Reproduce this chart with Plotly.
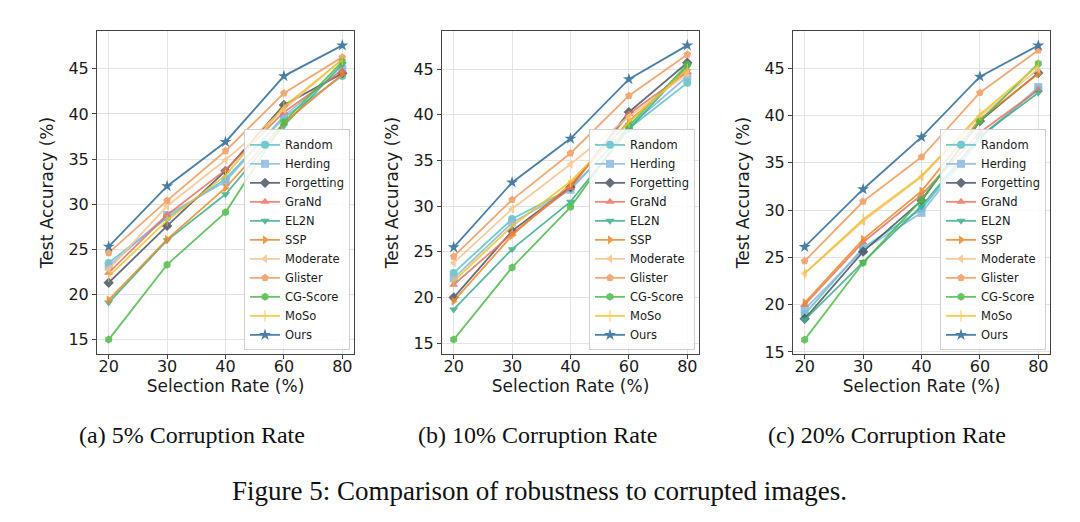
import plotly.graph_objects as go

RATES = ["20", "30", "40", "60", "80"]

METHODS = ["Random", "Herding", "Forgetting", "GraNd", "EL2N", "SSP",
           "Moderate", "Glister", "CG-Score", "MoSo", "Ours"]

# (a) 5% corruption
ACC_5 = {
    "Random":     [23.5, 28.5, 32.8, 39.6, 44.2],
    "Herding":    [23.1, 28.8, 32.5, 39.8, 45.0],
    "Forgetting": [21.3, 27.6, 33.7, 41.0, 44.5],
    "GraNd":      [22.4, 28.8, 33.8, 40.2, 44.8],
    "EL2N":       [19.1, 26.0, 31.1, 38.7, 45.5],
    "SSP":        [19.4, 26.1, 31.8, 39.0, 44.4],
    "Moderate":   [22.8, 29.8, 34.9, 40.5, 46.1],
    "Glister":    [24.6, 30.4, 35.9, 42.3, 46.3],
    "CG-Score":   [15.0, 23.3, 29.1, 39.1, 45.8],
    "MoSo":       [22.0, 28.2, 33.2, 40.8, 46.0],
    "Ours":       [25.3, 32.0, 36.9, 44.2, 47.6],
}

# (b) 10% corruption
ACC_10 = {
    "Random":     [22.7, 28.6, 31.9, 38.5, 43.5],
    "Herding":    [22.1, 28.2, 31.8, 38.7, 44.2],
    "Forgetting": [20.0, 27.3, 32.1, 40.3, 45.7],
    "GraNd":      [21.4, 27.0, 32.0, 40.1, 44.7],
    "EL2N":       [18.7, 25.3, 30.5, 38.4, 45.3],
    "SSP":        [19.6, 26.8, 32.4, 39.3, 44.9],
    "Moderate":   [23.8, 29.7, 34.6, 39.8, 44.5],
    "Glister":    [24.5, 30.7, 35.8, 42.1, 46.6],
    "CG-Score":   [15.4, 23.3, 29.9, 38.8, 45.5],
    "MoSo":       [21.8, 27.8, 32.7, 39.2, 45.0],
    "Ours":       [25.5, 32.6, 37.4, 43.9, 47.6],
}

# (c) 20% corruption
ACC_20 = {
    "Random":     [19.0, 26.0, 30.1, 37.7, 42.8],
    "Herding":    [19.5, 25.8, 29.7, 37.5, 43.0],
    "Forgetting": [18.5, 25.6, 31.0, 39.4, 44.5],
    "GraNd":      [20.0, 26.6, 31.6, 38.2, 42.7],
    "EL2N":       [18.4, 24.5, 30.4, 37.8, 42.4],
    "SSP":        [20.2, 26.9, 32.0, 39.6, 44.4],
    "Moderate":   [23.3, 28.8, 33.5, 39.9, 44.9],
    "Glister":    [24.6, 30.9, 35.6, 42.4, 46.9],
    "CG-Score":   [16.3, 24.4, 31.1, 39.4, 45.5],
    "MoSo":       [23.3, 29.0, 33.6, 40.1, 45.3],
    "Ours":       [26.1, 32.2, 37.7, 44.1, 47.4],
}

PANELS = [ACC_5, ACC_10, ACC_20]
SUBCAPTIONS = ["(a) 5% Corruption Rate", "(b) 10% Corruption Rate", "(c) 20% Corruption Rate"]
CAPTION = "Figure 5: Comparison of robustness to corrupted images."

STYLE = {
    "Random":     {"color": "#5cc2c6", "symbol": "circle"},
    "Herding":    {"color": "#8cb9de", "symbol": "square"},
    "Forgetting": {"color": "#4b5565", "symbol": "diamond"},
    "GraNd":      {"color": "#ea7560", "symbol": "triangle-up"},
    "EL2N":       {"color": "#3fae8c", "symbol": "triangle-down"},
    "SSP":        {"color": "#f0892a", "symbol": "triangle-right"},
    "Moderate":   {"color": "#f8c38e", "symbol": "triangle-left"},
    "Glister":    {"color": "#f39a5e", "symbol": "pentagon"},
    "CG-Score":   {"color": "#4dbb48", "symbol": "hexagon"},
    "MoSo":       {"color": "#f3c22c", "symbol": "line-ns"},
    "Ours":       {"color": "#2b6a9a", "symbol": "star"},
}

# pixel geometry of each panel (left, right) in a 1080x522 canvas
W, H = 1080, 522
PANEL_X = [(89, 346), (434, 691), (785, 1042)]
PANEL_TOP, PANEL_BOTTOM = 23, 351
Y_RANGES = [(13.37, 49.23), (13.79, 49.21), (14.75, 48.96)]
CAPTION_X = [184, 529, 879]

fig = go.Figure()

for i, data in enumerate(PANELS):
    sfx = "" if i == 0 else str(i + 1)
    for m in METHODS:
        st = STYLE[m]
        fig.add_trace(go.Scatter(
            x=RATES, y=data[m], name=m, mode="lines+markers",
            xaxis="x" + sfx, yaxis="y" + sfx, legend="legend" + sfx,
            opacity=0.85,
            line=dict(color=st["color"], width=1.8),
            marker=dict(symbol=st["symbol"], size=8 if m != "Ours" else 9,
                        color=st["color"],
                        line=dict(color=st["color"], width=1 if m == "MoSo" else 0)),
        ))

axis_common = dict(
    showline=True, mirror=True, linecolor="#444", linewidth=1,
    showgrid=True, gridcolor="#e3e3e3", gridwidth=1,
    ticks="outside", ticklen=4, tickcolor="#444", zeroline=False,
    tickfont=dict(family="DejaVu Sans", size=16, color="#1a1a1a"),
)

layout = dict(
    width=W, height=H, margin=dict(l=0, r=0, t=0, b=0),
    paper_bgcolor="white", plot_bgcolor="white", showlegend=True,
    font=dict(family="DejaVu Sans", color="#1a1a1a"),
)

annotations = []
for i, (x0, x1) in enumerate(PANEL_X):
    sfx = "" if i == 0 else str(i + 1)
    dom_x = [x0 / W, x1 / W]
    dom_y = [1 - PANEL_BOTTOM / H, 1 - PANEL_TOP / H]
    layout["xaxis" + sfx] = dict(
        axis_common, domain=dom_x, anchor="y" + sfx, type="category",
        range=[-0.2, 4.2], ticklabelstandoff=-6,
        title=dict(text="Selection Rate (%)", font=dict(family="DejaVu Sans", size=17), standoff=0),
    )
    layout["yaxis" + sfx] = dict(
        axis_common, domain=dom_y, anchor="x" + sfx,
        range=list(Y_RANGES[i]), tickvals=[15, 20, 25, 30, 35, 40, 45],
        title=dict(text="Test Accuracy (%)", font=dict(family="DejaVu Sans", size=17), standoff=10),
    )
    layout["legend" + sfx] = dict(
        x=(x1 - 4) / W, y=1 - (PANEL_BOTTOM - 4) / H, xanchor="right", yanchor="bottom",
        bgcolor="rgba(255,255,255,0.85)", bordercolor="#d0d0d0", borderwidth=1,
        font=dict(family="DejaVu Sans", size=11.5, color="#1a1a1a"),
        tracegroupgap=0, itemwidth=30,
    )
    annotations.append(dict(
        text=SUBCAPTIONS[i], xref="paper", yref="paper",
        x=CAPTION_X[i] / W, y=1 - 433 / H, xanchor="center", yanchor="middle",
        showarrow=False, font=dict(family="Liberation Serif", size=24, color="#111"),
    ))

annotations.append(dict(
    text=CAPTION, xref="paper", yref="paper", x=531 / W, y=1 - 490 / H,
    xanchor="center", yanchor="middle", showarrow=False,
    font=dict(family="Liberation Serif", size=27, color="#111"),
))
layout["annotations"] = annotations

fig.update_layout(**layout)
fig.write_html("out.html")
